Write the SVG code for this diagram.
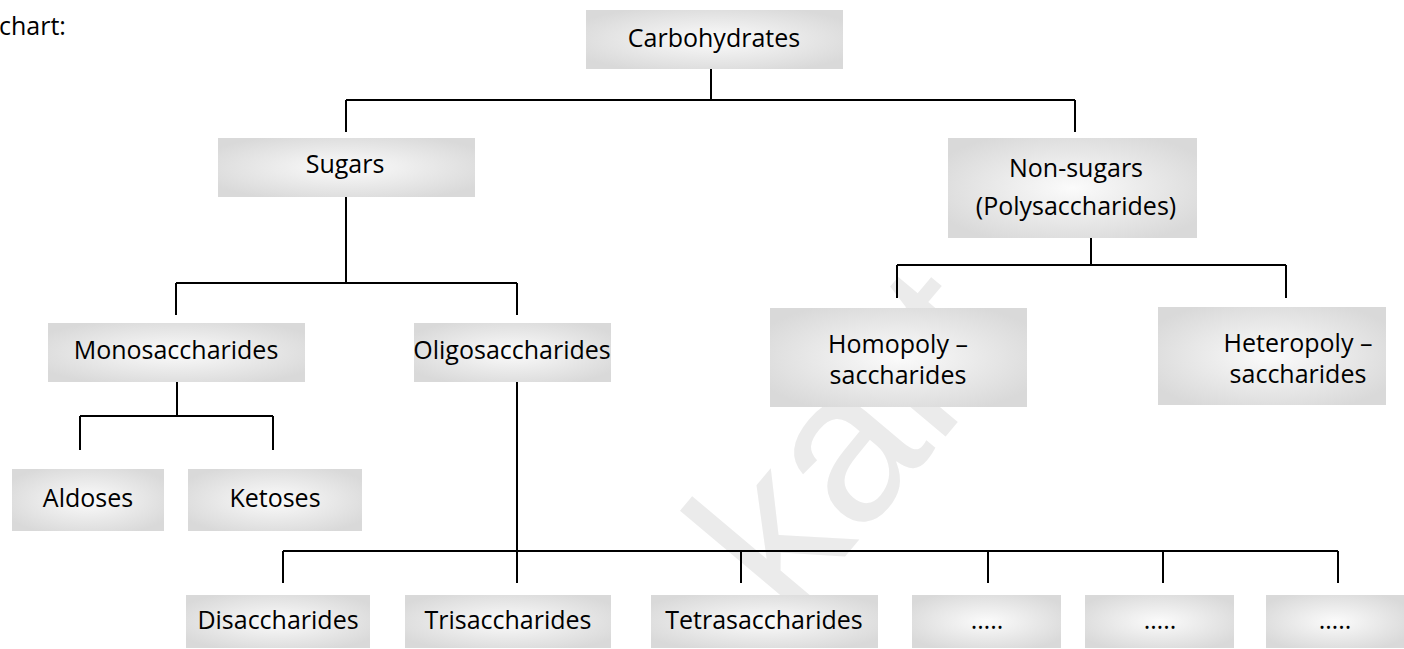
<svg xmlns="http://www.w3.org/2000/svg" width="1404" height="649" viewBox="0 0 1404 649">
<defs>
<radialGradient id="g" cx="0.5" cy="0.5" r="0.6">
<stop offset="0" stop-color="#fbfbfb"/>
<stop offset="1" stop-color="#d9d9d9"/>
</radialGradient>
<style>
.b{fill:url(#g);}
.t{font-family:"Open Sans","Liberation Sans",sans-serif;font-size:25px;fill:#000;text-anchor:middle;}
.c{fill:none;stroke:#000;stroke-width:2;}
.w{font-family:"Liberation Sans",sans-serif;font-size:215px;fill:#ebebeb;}
</style>
</defs>
<rect width="1404" height="649" fill="#fff"/>
<text class="w" transform="translate(790,622) rotate(-50)">kart</text>
<text x="-1" y="35" style="font-family:'Open Sans','Liberation Sans',sans-serif;font-size:25px">chart:</text>
<g id="connectors">
<path class="c" d="M711,69V100M346,100H1075M346,100V132M1075,100V132"/>
<path class="c" d="M346,197V283M176,283H517M176,283V315M517,283V315"/>
<path class="c" d="M177,382V416M80,416H273M80,416V450M273,416V450"/>
<path class="c" d="M1091,238V265M897,265H1286M897,265V298M1286,265V298"/>
<path class="c" d="M517,382V583M283,551H1338M283,551V583M741,551V583M988,551V583M1163,551V583M1338,551V583"/>
</g>
<g id="carbohydrates"><rect class="b" x="586" y="10" width="257" height="59"/><text class="t" x="714" y="47">Carbohydrates</text></g>
<g id="sugars"><rect class="b" x="218" y="138" width="257" height="59"/><text class="t" x="345" y="173">Sugars</text></g>
<g id="nonsugars"><rect class="b" x="948" y="138" width="249" height="100"/><text class="t" x="1076" y="177">Non-sugars</text><text class="t" x="1076" y="215">(Polysaccharides)</text></g>
<g id="monosaccharides"><rect class="b" x="48" y="323" width="257" height="59"/><text class="t" x="176" y="359">Monosaccharides</text></g>
<g id="oligosaccharides"><rect class="b" x="414" y="323" width="197" height="59"/><text class="t" x="512" y="359">Oligosaccharides</text></g>
<g id="homopoly"><rect class="b" x="770" y="308" width="257" height="99"/><text class="t" x="898" y="353">Homopoly –</text><text class="t" x="898" y="384">saccharides</text></g>
<g id="heteropoly"><rect class="b" x="1158" y="307" width="228" height="98"/><text class="t" x="1298" y="352">Heteropoly –</text><text class="t" x="1298" y="383">saccharides</text></g>
<g id="aldoses"><rect class="b" x="12" y="469" width="152" height="62"/><text class="t" x="88" y="507">Aldoses</text></g>
<g id="ketoses"><rect class="b" x="188" y="469" width="174" height="62"/><text class="t" x="275" y="507">Ketoses</text></g>
<g id="disaccharides"><rect class="b" x="186" y="595" width="184" height="53"/><text class="t" x="278" y="629">Disaccharides</text></g>
<g id="trisaccharides"><rect class="b" x="405" y="595" width="206" height="53"/><text class="t" x="508" y="629">Trisaccharides</text></g>
<g id="tetrasaccharides"><rect class="b" x="651" y="595" width="227" height="53"/><text class="t" x="764" y="629">Tetrasaccharides</text></g>
<g id="more1"><rect class="b" x="912" y="595" width="149" height="53"/><text class="t" x="987" y="629">…..</text></g>
<g id="more2"><rect class="b" x="1085" y="595" width="149" height="53"/><text class="t" x="1160" y="629">…..</text></g>
<g id="more3"><rect class="b" x="1266" y="595" width="138" height="53"/><text class="t" x="1335" y="629">…..</text></g>
</svg>
